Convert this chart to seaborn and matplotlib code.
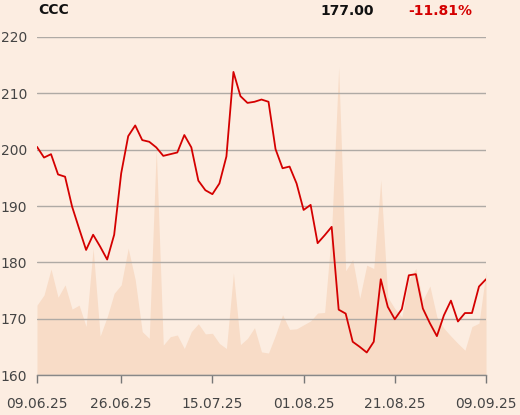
import matplotlib
matplotlib.use("Agg")
import matplotlib.pyplot as plt
import seaborn as sns
import pandas as pd

# trading sessions 09.06.2025 - 09.09.2025 (Warsaw, without 19.06 and 15.08)
holidays = pd.to_datetime(["2025-06-19", "2025-08-15"])
dates = pd.bdate_range("2025-06-09", "2025-09-09")
dates = dates[~dates.isin(holidays)]

close = [
    200.5, 198.6, 199.2, 195.6, 195.2, 189.9, 186.0, 182.2, 184.9, 182.8,
    180.5, 184.9, 195.8, 202.4, 204.3, 201.7, 201.4, 200.4, 198.9, 199.2,
    199.5, 202.6, 200.4, 194.5, 192.8, 192.1, 194.0, 198.8, 213.8, 209.5,
    208.3, 208.5, 208.9, 208.5, 200.1, 196.7, 197.0, 194.0, 189.3, 190.2,
    183.4, 184.8, 186.3, 171.6, 170.9, 165.9, 165.0, 164.0, 165.9, 177.0,
    172.1, 169.9, 171.7, 177.7, 177.9, 171.8, 169.2, 166.9, 170.6, 173.2,
    169.5, 171.0, 171.0, 175.7, 177.0,
]

# volume, thousand shares
volume = [
    124, 142, 188, 138, 160, 117, 124, 86, 225, 69,
    103, 145, 160, 225, 169, 77, 65, 402, 53, 68,
    71, 47, 77, 91, 73, 74, 56, 47, 181, 54,
    65, 84, 41, 39, 71, 107, 81, 82, 89, 96,
    110, 111, 257, 546, 185, 205, 136, 195, 189, 346,
    138, 118, 103, 169, 189, 133, 158, 103, 83, 69,
    56, 44, 86, 92, 183,
]

tick_labels = ["09.06.25", "26.06.25", "15.07.25", "01.08.25", "21.08.25", "09.09.25"]

df = pd.DataFrame({"date": dates, "close": close, "volume": volume})
df["pos"] = range(len(df))
tick_pos = [df.index[df["date"] == pd.to_datetime(t, format="%d.%m.%y")][0] for t in tick_labels]

bg = "#FCEDE1"
sns.set_theme(style="white")
plt.rcParams["font.family"] = ["DejaVu Sans"]

fig = plt.figure(figsize=(5.2, 4.15), dpi=100, facecolor=bg)
ax = fig.add_axes([37 / 520, 40 / 415, 449 / 520, 338 / 415])
ax_vol = ax.twinx()
ax.set_zorder(ax_vol.get_zorder() + 1)
ax.patch.set_visible(False)
ax_vol.set_facecolor(bg)

ax_vol.fill_between(df["pos"], df["volume"], 0, color="#F8DCC7", linewidth=0)
ax_vol.set_ylim(0, 600)
ax_vol.set_yticks([])
for s in ax_vol.spines.values():
    s.set_visible(False)

sns.lineplot(data=df, x="pos", y="close", ax=ax, color="#D40000", linewidth=1.3)

ax.set_xlim(0, len(df) - 1)
ax.set_ylim(160, 220)
ax.set_yticks(range(160, 221, 10))
ax.grid(axis="y", color="#AFAAA5", linewidth=1)
ax.set_xticks(tick_pos)
ax.set_xticklabels(tick_labels)
ax.tick_params(axis="x", length=6, width=1, color="#777777", labelsize=10,
               labelcolor="#444444", pad=10, bottom=True)
ax.tick_params(axis="y", length=0, labelsize=10, labelcolor="#444444", pad=7)
ax.set_xlabel("")
ax.set_ylabel("")
for side in ["top", "right", "left"]:
    ax.spines[side].set_visible(False)
ax.spines["bottom"].set_color("#888888")
ax.spines["bottom"].set_linewidth(1)

fig.text(38 / 520, 1 - 10 / 415, "CCC", fontsize=10, fontweight="bold",
         color="#111111", ha="left", va="center")
fig.text(374 / 520, 1 - 11 / 415, "177.00", fontsize=10, fontweight="bold",
         color="#111111", ha="right", va="center")
fig.text(472 / 520, 1 - 11 / 415, "-11.81%", fontsize=10, fontweight="bold",
         color="#D40000", ha="right", va="center")

fig.savefig("out.png", dpi=100, facecolor=bg)
